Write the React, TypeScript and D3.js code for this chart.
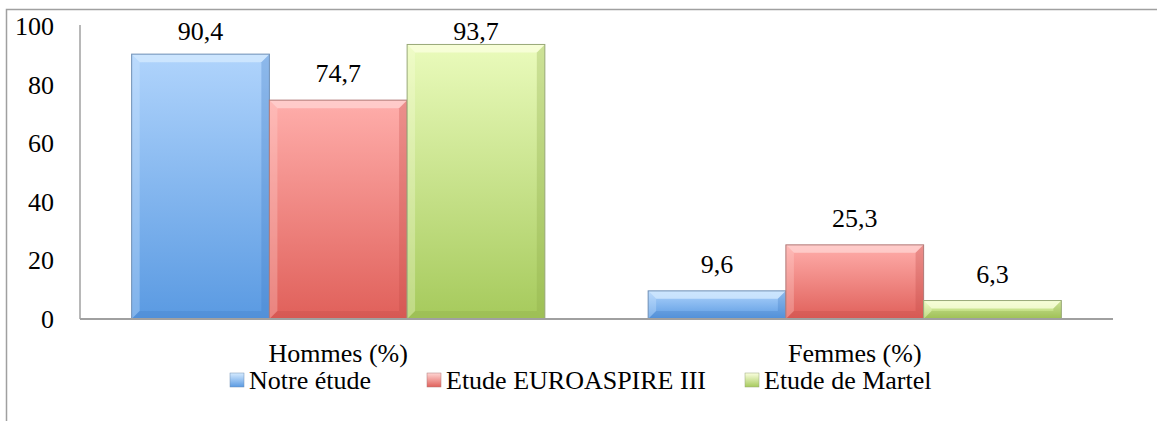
import React from "react";
import * as d3 from "d3";

const categories = ["Hommes (%)", "Femmes (%)"];
const seriesNames = ["Notre étude", "Etude EUROASPIRE III", "Etude de Martel"];
const notreEtude = [90.4, 9.6];
const euroaspire = [74.7, 25.3];
const martel = [93.7, 6.3];
const yTicks = [0, 20, 40, 60, 80, 100];
const seriesValues = [notreEtude, euroaspire, martel];

const palette = [
  { top: "#b0d4fc", bottom: "#5a9ae2", light: "#d6ebff", dark: "#3f7cc4", stroke: "#6f8fb5" },
  { top: "#ffaeab", bottom: "#e0605a", light: "#ffd6d4", dark: "#c04a45", stroke: "#b07a78" },
  { top: "#eafbbc", bottom: "#a6ca5c", light: "#fbffe0", dark: "#8aaa45", stroke: "#98a878" },
];

const W = 1157;
const H = 421;
const left = 80;
const right = 1113;
const y0 = 319;
const y100 = 26;
const FONT = "'Liberation Serif', 'Times New Roman', 'DejaVu Serif', Times, serif";
const FS = 26;
const textStyle: React.CSSProperties = { fontFamily: FONT, fontSize: FS };

function fmt(v: number) {
  return v.toFixed(1).replace(".", ",");
}

export default function App() {
  const x = d3.scaleBand<string>().domain(categories).range([left, right]).paddingInner(0).paddingOuter(0);
  const y = d3.scaleLinear().domain([0, 100]).range([y0, y100]);
  const band = x.bandwidth();
  const barW = band / 3.75;
  const groupOff = (band - 3 * barW) / 2;

  const bars: React.ReactNode[] = [];
  const labels: React.ReactNode[] = [];
  categories.forEach((cat, ci) => {
    seriesValues.forEach((vals, si) => {
      const v = vals[ci];
      const bx = (x(cat) as number) + groupOff + si * barW;
      const by = y(v);
      const bh = y0 - by;
      const b = Math.min(8, bh / 2);
      const c = palette[si];
      bars.push(
        <g key={`b${ci}-${si}`}>
          <rect x={bx} y={by} width={barW} height={bh} fill={`url(#grad${si})`} />
          <polygon
            points={`${bx},${by} ${bx + barW},${by} ${bx + barW - b},${by + b} ${bx + b},${by + b}`}
            fill={c.light}
            opacity={0.75}
          />
          <polygon
            points={`${bx},${by} ${bx + b},${by + b} ${bx + b},${y0 - b} ${bx},${y0}`}
            fill={c.light}
            opacity={0.3}
          />
          <polygon
            points={`${bx + barW},${by} ${bx + barW - b},${by + b} ${bx + barW - b},${y0 - b} ${bx + barW},${y0}`}
            fill={c.dark}
            opacity={0.3}
          />
          <polygon
            points={`${bx},${y0} ${bx + b},${y0 - b} ${bx + barW - b},${y0 - b} ${bx + barW},${y0}`}
            fill={c.dark}
            opacity={0.3}
          />
          <rect x={bx} y={by} width={barW} height={bh} fill="none" stroke={c.stroke} strokeWidth={1} />
        </g>
      );
      labels.push(
        <text
          key={`l${ci}-${si}`}
          x={bx + barW / 2}
          y={Math.max(by - 18, 40)}
          textAnchor="middle"
          style={textStyle}
          fill="#000"
        >
          {fmt(v)}
        </text>
      );
    });
  });

  const legendItems = [
    { name: seriesNames[0], mx: 230 },
    { name: seriesNames[1], mx: 427 },
    { name: seriesNames[2], mx: 745 },
  ];

  return (
    <svg
      width={W}
      height={H}
      style={{ position: "absolute", left: 0, top: 0, background: "#fff" }}
    >
      <defs>
        {palette.map((c, i) => (
          <linearGradient key={i} id={`grad${i}`} x1="0" y1="0" x2="0" y2="1">
            <stop offset="0%" stopColor={c.top} />
            <stop offset="100%" stopColor={c.bottom} />
          </linearGradient>
        ))}
        {palette.map((c, i) => (
          <linearGradient key={`m${i}`} id={`mgrad${i}`} x1="0" y1="0" x2="0" y2="1">
            <stop offset="0%" stopColor={c.light} />
            <stop offset="100%" stopColor={c.bottom} />
          </linearGradient>
        ))}
      </defs>
      <rect x={6.5} y={9.5} width={W + 20} height={H + 20} fill="none" stroke="#a0a0a0" strokeWidth={1.5} />
      <line x1={left} x2={left} y1={y100 - 1} y2={y0} stroke="#a0a0a0" strokeWidth={1.5} />
      {yTicks.map((t) => (
        <text key={t} x={54} y={y(t) + 9} textAnchor="end" style={textStyle} fill="#000">
          {t}
        </text>
      ))}
      {bars}
      <line x1={left} x2={right} y1={y0} y2={y0} stroke="#a0a0a0" strokeWidth={2} />
      {labels}
      {categories.map((cat) => (
        <text
          key={cat}
          x={(x(cat) as number) + band / 2}
          y={362}
          textAnchor="middle"
          style={textStyle}
          fill="#000"
        >
          {cat}
        </text>
      ))}
      {legendItems.map((it, i) => (
        <g key={it.name}>
          <rect x={it.mx} y={373} width={14} height={14} fill={`url(#mgrad${i})`} stroke={palette[i].stroke} strokeWidth={0.5} />
          <text x={it.mx + 19} y={389} style={textStyle} fill="#000">
            {it.name}
          </text>
        </g>
      ))}
    </svg>
  );
}
